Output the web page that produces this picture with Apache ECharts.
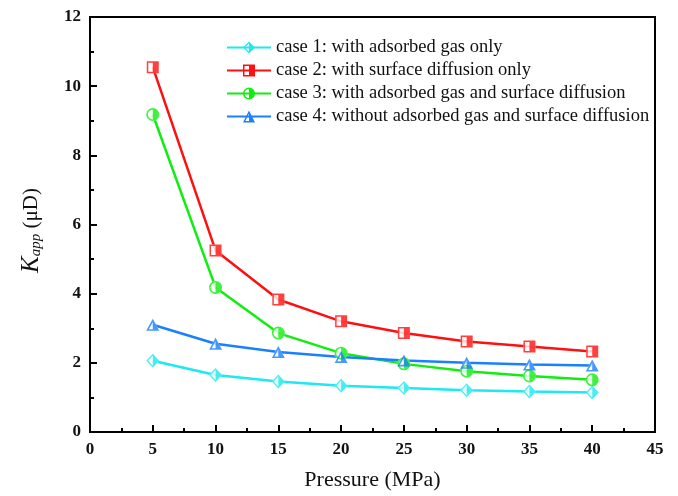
<!DOCTYPE html>
<html><head><meta charset="utf-8">
<script src="https://cdn.jsdelivr.net/npm/echarts@6/dist/echarts.min.js"></script>
<style>html,body{margin:0;padding:0;background:#fff}#c{width:678px;height:496px}</style>
</head><body><div id="c"></div>
<script>
var pressure = [5, 10, 15, 20, 25, 30, 35, 40];
var case1 = [2.06, 1.65, 1.46, 1.34, 1.27, 1.21, 1.17, 1.14];
var case2 = [10.55, 5.25, 3.83, 3.20, 2.86, 2.62, 2.47, 2.33];
var case3 = [9.18, 4.18, 2.86, 2.28, 1.97, 1.76, 1.62, 1.51];
var case4 = [3.10, 2.55, 2.31, 2.17, 2.07, 2.00, 1.95, 1.92];
var names = ['case 1: with adsorbed gas only', 'case 2: with surface diffusion only',
  'case 3: with adsorbed gas and surface diffusion', 'case 4: without adsorbed gas and surface diffusion'];
var xTicks = [0, 5, 10, 15, 20, 25, 30, 35, 40, 45];
var yTicks = [0, 2, 4, 6, 8, 10, 12];

var colors = ['#1ee8f0', '#ff1010', '#10ee10', '#1a80ff'];
// half-filled (right half) shapes with hollow left half
var halfPaths = [
  'path://M0,10 L10,0 L20,10 L10,20 Z M2.8,10 L10,17.2 L10,2.8 Z',
  'path://M0,0 L20,0 L20,20 L0,20 Z M2.5,2.5 L2.5,17.5 L10,17.5 L10,2.5 Z',
  'path://M10,0 A10,10 0 1,1 10,20 A10,10 0 1,1 10,0 Z M10,2.5 A7.5,7.5 0 0,0 10,17.5 Z',
  'path://M10,0 L20,18 L0,18 Z M10,5 L4,15.6 L10,15.6 Z'
];
var solidSymbols = ['diamond', 'rect', 'circle', 'triangle'];
var sizes = [[13, 14], [12, 12], [13, 13], [13, 12]];
var datasets = [case1, case2, case3, case4];

function pairs(arr) { return pressure.map(function (p, i) { return [p, arr[i]]; }); }

var series = [];
datasets.forEach(function (d, i) {
  series.push({
    name: names[i], type: 'line', data: pairs(d), z: 2,
    symbol: halfPaths[i], symbolSize: sizes[i], showSymbol: false,
    color: colors[i], lineStyle: { width: 2.5, color: colors[i] },
    itemStyle: { color: colors[i] }
  });
});
datasets.forEach(function (d, i) {
  series.push({
    name: 'bg' + i, type: 'scatter', data: pairs(d), z: 3, silent: true,
    symbol: solidSymbols[i], symbolSize: sizes[i],
    itemStyle: { color: '#ffffff' }
  });
});
datasets.forEach(function (d, i) {
  series.push({
    name: 'mk' + i, type: 'scatter', data: pairs(d), z: 4, silent: true,
    symbol: halfPaths[i], symbolSize: sizes[i],
    itemStyle: { color: colors[i] }
  });
});

var serif = '"Liberation Serif", "Times New Roman", serif';
var chart = echarts.init(document.getElementById('c'));
chart.setOption({
  backgroundColor: '#fff',
  animation: false,
  grid: { left: 90, top: 17, right: 23, bottom: 63, show: true, borderColor: '#000', borderWidth: 2, backgroundColor: 'transparent' },
  legend: {
    orient: 'vertical', left: 221, top: 33, itemGap: 4, itemWidth: 44, itemHeight: 15,
    data: names,
    textStyle: { fontFamily: serif, fontSize: 18.5, color: '#111', lineHeight: 19 }
  },
  xAxis: {
    type: 'value', min: xTicks[0], max: xTicks[xTicks.length - 1], interval: 5,
    name: 'Pressure (MPa)', nameLocation: 'middle', nameGap: 37,
    nameTextStyle: { fontFamily: serif, fontSize: 22, color: '#111' },
    axisLine: { lineStyle: { color: '#000', width: 2 } },
    axisTick: { inside: true, length: 7, lineStyle: { width: 2, color: '#000' } },
    minorTick: { show: true, splitNumber: 2, length: 4, lineStyle: { width: 2, color: '#000' } },
    splitLine: { show: false },
    axisLabel: { fontFamily: serif, fontSize: 17, fontWeight: 'bold', color: '#111', margin: 9 }
  },
  yAxis: {
    type: 'value', min: yTicks[0], max: yTicks[yTicks.length - 1], interval: 2,
    name: '{k|K}{s|app}{u| (μD)}', nameLocation: 'middle', nameGap: 46, nameRotate: 90,
    nameTextStyle: {
      fontFamily: serif, color: '#111',
      rich: {
        k: { fontFamily: serif, fontSize: 25, fontStyle: 'italic', color: '#111', lineHeight: 26 },
        s: { fontFamily: serif, fontSize: 15, fontStyle: 'italic', color: '#111', verticalAlign: 'bottom', lineHeight: 26, padding: [10, 0, 0, 0] },
        u: { fontFamily: serif, fontSize: 21, color: '#111', lineHeight: 26, padding: [0, 12, 0, 0] }
      }
    },
    axisLine: { lineStyle: { color: '#000', width: 2 } },
    axisTick: { inside: true, length: 7, lineStyle: { width: 2, color: '#000' } },
    minorTick: { show: true, splitNumber: 2, length: 4, lineStyle: { width: 2, color: '#000' } },
    splitLine: { show: false },
    axisLabel: { fontFamily: serif, fontSize: 17, fontWeight: 'bold', color: '#111', margin: 9 }
  },
  series: series
});
</script></body></html>
